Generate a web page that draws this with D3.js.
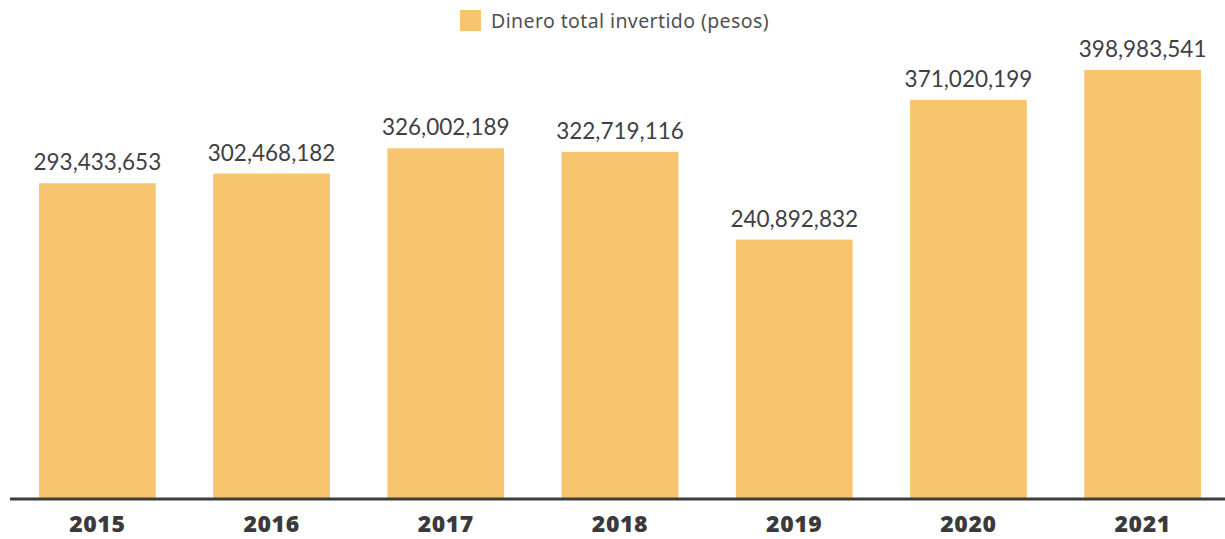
<!DOCTYPE html>
<html>
<head>
<meta charset="utf-8">
<script src="https://cdn.jsdelivr.net/npm/d3@7"></script>
<style>
  body { margin: 0; background: #fff; }
  svg { display: block; }
</style>
</head>
<body>
<div id="chart"></div>
<script>
const years = ['2015', '2016', '2017', '2018', '2019', '2020', '2021'];
const invested = [293433653, 302468182, 326002189, 322719116, 240892832, 371020199, 398983541];
const seriesName = 'Dinero total invertido (pesos)';

const width = 1225;
const height = 539;
const baseY = 498;
const barColor = '#f7c56e';

const svg = d3.select('#chart')
  .append('svg')
  .attr('width', width)
  .attr('height', height);

const x = d3.scaleBand()
  .domain(years)
  .range([12, 1228])
  .paddingInner(0.33)
  .paddingOuter(0.155);

const y = d3.scaleLinear()
  .domain([0, d3.max(invested)])
  .range([baseY, 70]);

const data = years.map((yr, i) => ({ year: yr, value: invested[i] }));

svg.selectAll('.bar')
  .data(data)
  .enter().append('rect')
  .attr('class', 'bar')
  .attr('x', d => x(d.year))
  .attr('width', x.bandwidth())
  .attr('y', d => y(d.value))
  .attr('height', d => baseY - y(d.value))
  .attr('fill', barColor);

svg.selectAll('.val')
  .data(data)
  .enter().append('text')
  .attr('class', 'val')
  .attr('x', d => x(d.year) + x.bandwidth() / 2)
  .attr('y', d => y(d.value) - 13)
  .attr('text-anchor', 'middle')
  .style('font-family', 'Lato, "Noto Sans", sans-serif')
  .style('font-size', '22.5px')
  .style('fill', '#404044')
  .text(d => d3.format(',')(d.value));

// baseline
svg.append('line')
  .attr('x1', 10)
  .attr('x2', 1225)
  .attr('y1', baseY + 1)
  .attr('y2', baseY + 1)
  .attr('stroke', '#3d3d3f')
  .attr('stroke-width', 3);

// year labels
const xAxis = svg.append('g')
  .attr('transform', `translate(0,${baseY})`)
  .call(d3.axisBottom(x).tickSize(0).tickPadding(0));
xAxis.select('.domain').remove();
xAxis.selectAll('text')
  .attr('y', 34)
  .attr('dy', 0)
  .style('font-family', '"Open Sans", Lato, sans-serif')
  .style('font-weight', 800)
  .style('font-size', '23px')
  .style('letter-spacing', '0.6px')
  .style('fill', '#3a3a3c');

// legend
const legend = svg.append('g').attr('transform', 'translate(460,10)');
legend.append('rect')
  .attr('width', 21)
  .attr('height', 21)
  .attr('fill', barColor);
legend.append('text')
  .attr('x', 31)
  .attr('y', 18)
  .style('font-family', '"Noto Sans", Lato, sans-serif')
  .style('font-size', '19.5px')
  .style('letter-spacing', '0.4px')
  .style('fill', '#505052')
  .text(seriesName);
</script>
</body>
</html>
